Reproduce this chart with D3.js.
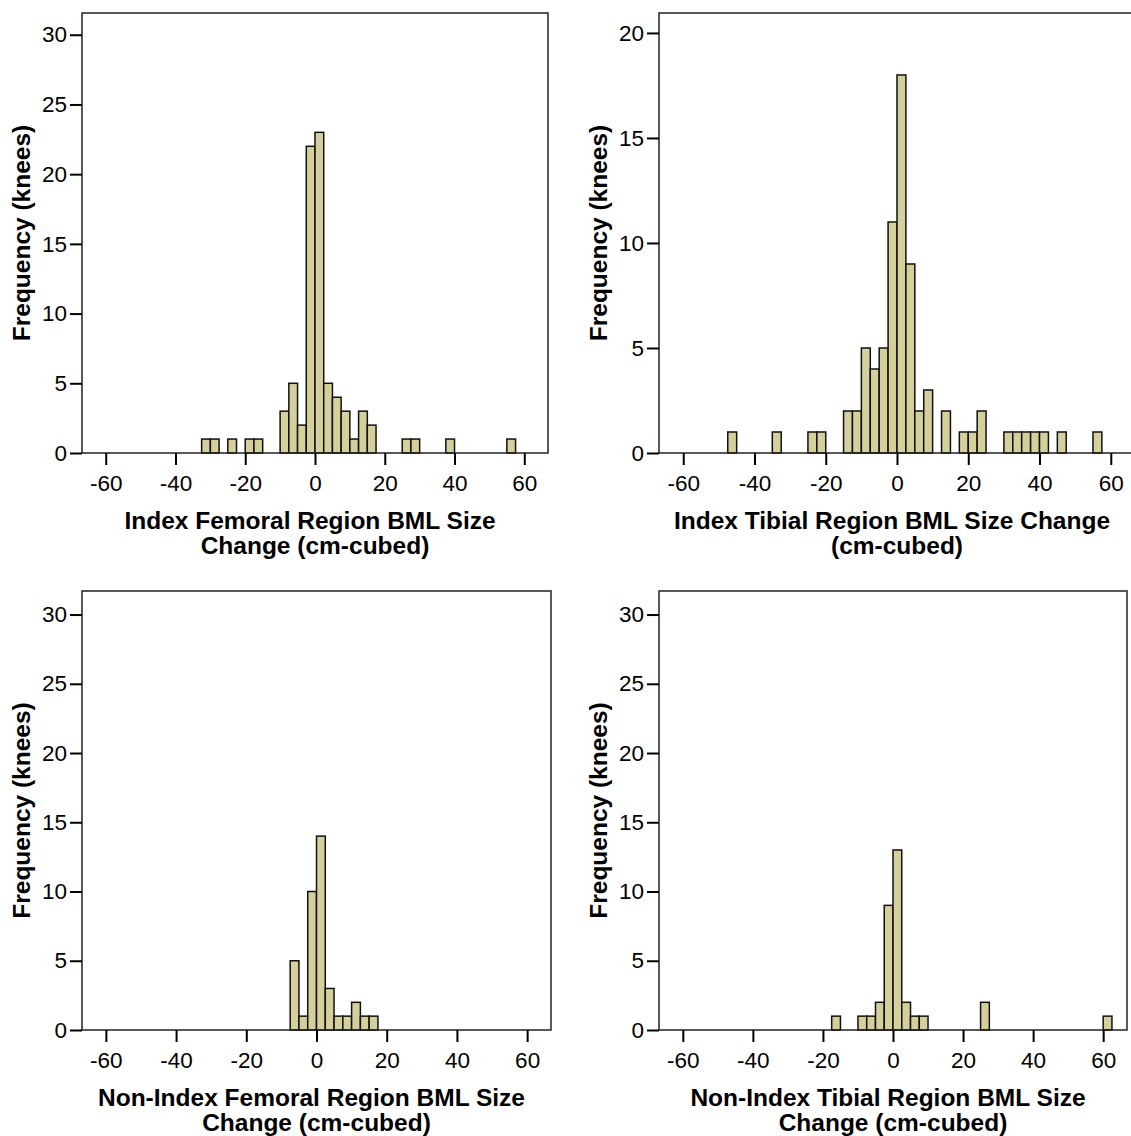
<!DOCTYPE html>
<html>
<head>
<meta charset="utf-8">
<script src="https://cdn.jsdelivr.net/npm/d3@7"></script>
<style>
  body { margin: 0; background: #fff; }
  svg { display: block; font-family: "Liberation Sans", Arial, sans-serif; }
  .tick text { font-size: 22.5px; fill: #000; }
  .tick line { stroke: #000; stroke-width: 2; }
  .axis-title { font-size: 24.5px; font-weight: bold; fill: #000; }
</style>
</head>
<body>
<svg id="chart" width="1131" height="1136"></svg>
<script>
// 1: DATA (bin start in cm-cubed, count of knees)
const binWidth = 2.5;
const xTicks = [-60, -40, -20, 0, 20, 40, 60];
const yTicks30 = [0, 5, 10, 15, 20, 25, 30];
const yTicks20 = [0, 5, 10, 15, 20];

const femIdxStart = [-32.5, -30, -25, -20, -17.5, -10, -7.5, -5, -2.5, 0, 2.5, 5, 7.5, 10, 12.5, 15, 25, 27.5, 37.5, 55];
const femIdxCount = [1, 1, 1, 1, 1, 3, 5, 2, 22, 23, 5, 4, 3, 1, 3, 2, 1, 1, 1, 1];

const tibIdxStart = [-47.5, -35, -25, -22.5, -15, -12.5, -10, -7.5, -5, -2.5, 0, 2.5, 5, 7.5, 12.5, 17.5, 20, 22.5, 30, 32.5, 35, 37.5, 40, 45, 55];
const tibIdxCount = [1, 1, 1, 1, 2, 2, 5, 4, 5, 11, 18, 9, 2, 3, 2, 1, 1, 2, 1, 1, 1, 1, 1, 1, 1];

const femNonStart = [-7.5, -5, -2.5, 0, 2.5, 5, 7.5, 10, 12.5, 15];
const femNonCount = [5, 1, 10, 14, 3, 1, 1, 2, 1, 1];

const tibNonStart = [-17.5, -10, -7.5, -5, -2.5, 0, 2.5, 5, 7.5, 25, 60];
const tibNonCount = [1, 1, 1, 2, 9, 13, 2, 1, 1, 2, 1];

const yLabel = "Frequency (knees)";

// 2: PANELS (box = left, right, top, bottom in px)
const panels = [
    { start: femIdxStart, count: femIdxCount, box: [82, 548, 13, 453], yMax: 31.56, yTicks: yTicks30,
      title: ["Index Femoral Region BML Size", "Change (cm-cubed)"], yTitleX: 30 },
    { start: tibIdxStart, count: tibIdxCount, box: [659, 1135, 13, 453], yMax: 20.95, yTicks: yTicks20,
      title: ["Index Tibial Region BML Size Change", "(cm-cubed)"], yTitleX: 607 },
    { start: femNonStart, count: femNonCount, box: [82, 551, 591, 1030], yMax: 31.7, yTicks: yTicks30,
      title: ["Non-Index Femoral Region BML Size", "Change (cm-cubed)"], yTitleX: 30 },
    { start: tibNonStart, count: tibNonCount, box: [659, 1127, 591, 1030], yMax: 31.7, yTicks: yTicks30,
      title: ["Non-Index Tibial Region BML Size", "Change (cm-cubed)"], yTitleX: 607 }
];

const svg = d3.select("#chart");

panels.forEach(p => {
    const [left, right, top, bottom] = p.box;
    const x = d3.scaleLinear().domain([-66.8, 66.8]).range([left, right]);
    const y = d3.scaleLinear().domain([0, p.yMax]).range([bottom, top]);
    const g = svg.append("g");

    const bins = p.start.map((s, i) => ({ x0: s, x1: s + binWidth, n: p.count[i] }));

    // bars
    g.selectAll("rect.bar")
        .data(bins)
        .enter()
        .append("rect")
        .attr("class", "bar")
        .attr("x", d => x(d.x0))
        .attr("width", d => x(d.x1) - x(d.x0))
        .attr("y", d => y(d.n))
        .attr("height", d => y(0) - y(d.n))
        .attr("fill", "#d4cf9b")
        .attr("stroke", "#111")
        .attr("stroke-width", 1.5);

    // frame
    g.append("rect")
        .attr("x", left)
        .attr("y", top)
        .attr("width", right - left)
        .attr("height", bottom - top)
        .attr("fill", "none")
        .attr("stroke", "#222")
        .attr("stroke-width", 1.5);

    // axes (plain hyphen for negatives)
    const xAxis = g.append("g")
        .attr("transform", `translate(0,${bottom})`)
        .call(d3.axisBottom(x).tickValues(xTicks).tickFormat(d => String(d))
            .tickSize(12).tickPadding(10).tickSizeOuter(0));
    xAxis.select(".domain").remove();

    const yAxis = g.append("g")
        .attr("transform", `translate(${left},0)`)
        .call(d3.axisLeft(y).tickValues(p.yTicks).tickFormat(d => String(d))
            .tickSize(12).tickPadding(3).tickSizeOuter(0));
    yAxis.select(".domain").remove();

    // axis titles
    const cx = (left + right) / 2;
    const xt = g.append("text")
        .attr("class", "axis-title")
        .attr("text-anchor", "middle")
        .attr("y", bottom + 76);
    p.title.forEach((line, i) => {
        xt.append("tspan")
            .attr("x", i === 0 ? cx - 5 : cx)
            .attr("dy", i === 0 ? 0 : 25)
            .text(line);
    });

    g.append("text")
        .attr("class", "axis-title")
        .attr("text-anchor", "middle")
        .attr("transform", `translate(${p.yTitleX},${(top + bottom) / 2}) rotate(-90)`)
        .text(yLabel);
});
</script>
</body>
</html>
